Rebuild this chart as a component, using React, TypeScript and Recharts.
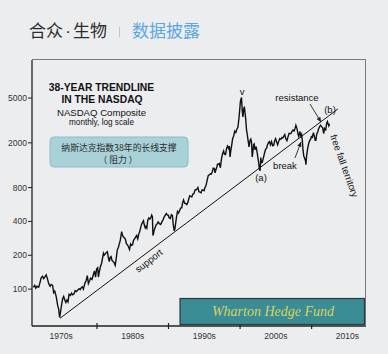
import React from "react";
import { LineChart, Line, XAxis, YAxis } from "recharts";

// NASDAQ Composite (decimal year, index level)
const dates = [
  1971.1, 1971.3, 1971.45, 1971.6, 1971.85, 1972.0, 1972.2, 1972.4, 1972.55, 1972.7, 1972.9,
  1973.1, 1973.25, 1973.45, 1973.6, 1973.8, 1973.95, 1974.1, 1974.3, 1974.5, 1974.65, 1974.78, 1974.9,
  1975.05, 1975.2, 1975.35, 1975.5, 1975.65, 1975.8, 1975.95, 1976.1, 1976.3, 1976.45, 1976.6, 1976.8, 1976.95,
  1977.15, 1977.3, 1977.5, 1977.65, 1977.85, 1977.95, 1978.1, 1978.3, 1978.5, 1978.65, 1978.8, 1978.95,
  1979.1, 1979.3, 1979.5, 1979.65, 1979.8, 1979.95, 1980.1, 1980.2, 1980.35, 1980.5, 1980.65, 1980.8, 1980.9,
  1981.0, 1981.15, 1981.3, 1981.45, 1981.6, 1981.72, 1981.85, 1981.97, 1982.1, 1982.25, 1982.4, 1982.55,
  1982.7, 1982.85, 1982.97, 1983.1, 1983.25, 1983.45, 1983.55, 1983.7, 1983.85, 1983.97, 1984.1, 1984.25,
  1984.4, 1984.55, 1984.7, 1984.85, 1984.97, 1985.1, 1985.25, 1985.4, 1985.55, 1985.7, 1985.85, 1985.97,
  1986.1, 1986.25, 1986.4, 1986.5, 1986.6, 1986.75, 1986.85, 1986.97, 1987.1, 1987.25, 1987.4, 1987.55,
  1987.65, 1987.75, 1987.82, 1987.9, 1987.97, 1988.1, 1988.25, 1988.4, 1988.55, 1988.7, 1988.85, 1988.97,
  1989.1, 1989.25, 1989.4, 1989.55, 1989.7, 1989.85, 1989.97, 1990.1, 1990.25, 1990.4, 1990.55, 1990.65,
  1990.8, 1990.9, 1990.97, 1991.1, 1991.25, 1991.4, 1991.55, 1991.7, 1991.85, 1991.97, 1992.1, 1992.25,
  1992.4, 1992.55, 1992.7, 1992.85, 1992.97, 1993.1, 1993.25, 1993.4, 1993.55, 1993.7, 1993.85, 1993.97,
  1994.1, 1994.25, 1994.4, 1994.55, 1994.7, 1994.85, 1994.97, 1995.1, 1995.25, 1995.4, 1995.55, 1995.7,
  1995.85, 1995.97, 1996.1, 1996.25, 1996.4, 1996.5, 1996.6, 1996.75, 1996.85, 1996.97, 1997.1, 1997.25,
  1997.4, 1997.55, 1997.7, 1997.8, 1997.9, 1997.97, 1998.1, 1998.25, 1998.4, 1998.5, 1998.6, 1998.7,
  1998.85, 1998.97, 1999.1, 1999.25, 1999.4, 1999.55, 1999.7, 1999.85, 1999.97, 2000.05, 2000.2, 2000.3,
  2000.4, 2000.5, 2000.6, 2000.7, 2000.8, 2000.9, 2000.97, 2001.1, 2001.25, 2001.4, 2001.5, 2001.6,
  2001.7, 2001.8, 2001.9, 2001.97, 2002.1, 2002.25, 2002.4, 2002.5, 2002.6, 2002.7, 2002.8, 2002.9,
  2002.97, 2003.1, 2003.25, 2003.4, 2003.55, 2003.7, 2003.85, 2003.97, 2004.1, 2004.25, 2004.4, 2004.55,
  2004.7, 2004.85, 2004.97, 2005.1, 2005.25, 2005.4, 2005.55, 2005.7, 2005.85, 2005.97, 2006.1, 2006.25,
  2006.4, 2006.55, 2006.7, 2006.85, 2006.97, 2007.1, 2007.25, 2007.4, 2007.55, 2007.7, 2007.8, 2007.97,
  2008.1, 2008.2, 2008.35, 2008.5, 2008.6, 2008.7, 2008.8, 2008.9, 2009.0, 2009.15, 2009.2, 2009.3,
  2009.45, 2009.6, 2009.75, 2009.85, 2009.97, 2010.1, 2010.25, 2010.4, 2010.5, 2010.6, 2010.7, 2010.85,
  2010.97, 2011.1, 2011.25, 2011.4, 2011.55, 2011.6, 2011.7, 2011.8, 2011.9, 2011.97, 2012.1, 2012.2,
  2012.3, 2012.4, 2012.5,
];

const closes = [
  104, 108, 102, 106, 104, 112, 126, 130, 124, 128, 134,
  122, 112, 106, 110, 108, 93, 96, 86, 72, 66, 56, 62,
  72, 82, 86, 80, 76, 80, 77, 90, 88, 92, 89, 91, 97,
  95, 98, 101, 99, 104, 105, 100, 112, 120, 132, 112, 118,
  125, 122, 135, 145, 128, 151, 155, 128, 145, 160, 170, 192, 208,
  200, 205, 212, 215, 190, 176, 192, 195, 180, 176, 172, 163,
  190, 225, 232, 250, 270, 325, 305, 290, 285, 279, 255, 248,
  238, 225, 252, 245, 248, 270, 280, 290, 300, 280, 310, 325,
  350, 380, 395, 405, 375, 350, 360, 349, 410, 430, 420, 435,
  455, 440, 300, 310, 330, 350, 370, 380, 395, 385, 375, 381,
  400, 415, 440, 455, 470, 455, 454, 430, 425, 458, 450, 380,
  330, 345, 374, 430, 490, 475, 500, 525, 530, 586, 620, 580,
  575, 565, 590, 640, 677, 670, 660, 700, 705, 760, 765, 776,
  800, 735, 730, 720, 765, 760, 752, 800, 840, 930, 1020, 1040,
  1060, 1052, 1100, 1190, 1180, 1080, 1140, 1220, 1290, 1291, 1310, 1200,
  1440, 1590, 1690, 1600, 1570, 1570, 1770, 1870, 1780, 1870, 1500, 1690,
  1950, 2193, 2290, 2540, 2470, 2640, 2750, 3340, 4069, 4700, 5050, 3860,
  3400, 3960, 4200, 3670, 3200, 2600, 2470, 2150, 1840, 2110, 2160, 2030,
  1500, 1690, 1930, 1950, 1730, 1850, 1615, 1460, 1330, 1170, 1130, 1480,
  1335, 1340, 1460, 1600, 1740, 1790, 1930, 2003, 2050, 1920, 2050, 1890,
  1900, 2100, 2175, 2050, 1920, 2060, 2180, 2150, 2230, 2205, 2280, 2370,
  2170, 2090, 2260, 2430, 2415, 2420, 2525, 2600, 2550, 2700, 2860, 2650,
  2390, 2280, 2520, 2290, 2370, 2090, 1720, 1530, 1475, 1380, 1280, 1530,
  1790, 1980, 2110, 2140, 2270, 2240, 2460, 2260, 2110, 2110, 2370, 2500,
  2650, 2780, 2870, 2770, 2720, 2580, 2420, 2680, 2620, 2605, 2970, 3090,
  2950, 2830, 2960,
];

// 38-year support / resistance trendline
const trendDates = [1974.83, 2013.67];
const trendValues = [55, 4000];

const yTicks = [100, 200, 400, 800, 2000, 5000];
const decadeTicks = [1980, 1990, 2000, 2010];
const labelTicks = [1975, 1985, 1995, 2005, 2015];
const decadeLabels = ["1970s", "1980s", "1990s", "2000s", "2010s"];

const series = dates.map((t, i) => ({ t, v: closes[i] }));
const trend = trendDates.map((t, i) => ({ t, v: trendValues[i] }));
const xTicks = [...labelTicks, ...decadeTicks].sort((a, b) => a - b);

const SANS = "'Liberation Sans', Arial, sans-serif";
const CJK = "'Noto Sans CJK SC', sans-serif";
const INK = "#222";

function DecadeTick({ x, y, payload }: any) {
  const i = labelTicks.indexOf(payload.value);
  if (i >= 0) {
    return (
      <text x={x} y={y + 13} textAnchor="middle" fontSize={8.5} fontFamily={SANS} fill="#333">
        {decadeLabels[i]}
      </text>
    );
  }
  return <line x1={x} x2={x} y1={y - 3} y2={y + 3} stroke={INK} strokeWidth={1.2} />;
}

function Overlay() {
  return (
    <svg
      width={388}
      height={354}
      style={{ position: "absolute", left: 0, top: 0, pointerEvents: "none" }}
    >
      <defs>
        <marker id="arr" viewBox="0 0 10 10" refX="9" refY="5" markerWidth="6" markerHeight="6" orient="auto">
          <path d="M0,1 L10,5 L0,9 z" fill={INK} />
        </marker>
      </defs>

      {/* page header */}
      <g fontSize={17} fill="#2c2c2c">
        <text x={29} y={37} fontFamily={CJK}>合众</text>
        <text x={68} y={37} fontFamily={SANS} textAnchor="middle">·</text>
        <text x={73} y={37} fontFamily={CJK}>生物</text>
      </g>
      <line x1={119.5} x2={119.5} y1={27} y2={37} stroke="#c4c4c4" strokeWidth={1} />
      <text x={132} y={37} fontSize={17} fontFamily={CJK} fill="#5aa7e2">数据披露</text>

      {/* frame top / right */}
      <line x1={32} x2={366} y1={59.5} y2={59.5} stroke="#7a7a7a" strokeWidth={1} />
      <line x1={365.5} x2={365.5} y1={59.5} y2={326} stroke="#7a7a7a" strokeWidth={1} />

      {/* title block */}
      <g fontFamily={SANS} fill="#111" textAnchor="middle">
        <text x={101.5} y={90.5} fontSize={10.3} fontWeight="bold">38-YEAR TRENDLINE</text>
        <text x={102} y={102.5} fontSize={10.3} fontWeight="bold">IN THE NASDAQ</text>
        <text x={101.5} y={115.5} fontSize={9.6}>NASDAQ Composite</text>
        <text x={101.5} y={125} fontSize={8.2}>monthly, log scale</text>
      </g>

      {/* Chinese note box */}
      <rect x={50} y={137} width={138} height={30} rx={4} fill="#a9d2d8" stroke="#8bbcc5" strokeWidth={1} />
      <g fontFamily={CJK} fill="#2a2a2a" textAnchor="middle" fontSize={8.8}>
        <text x={119} y={150.5}>纳斯达克指数38年的长线支撑</text>
        <text x={118} y={162.5}>（ 阻力 ）</text>
      </g>

      {/* annotations */}
      <g fontFamily={SANS} fill="#111" fontSize={9.5} textAnchor="middle">
        <text x={242} y={95}>v</text>
        <text x={297} y={101}>resistance</text>
        <text x={330} y={112.5}>(b)</text>
        <text x={261} y={180.5}>(a)</text>
        <text x={285} y={168.5}>break</text>
        <text x={344} y={169} transform="rotate(70 344 166)">free fall territory</text>
        <text x={149} y={264} transform="rotate(-38 149 261)">support</text>
      </g>
      <line x1={310} y1={104} x2={321} y2={122} stroke={INK} strokeWidth={0.9} markerEnd="url(#arr)" />
      <line x1={295} y1={158} x2={301} y2={142} stroke={INK} strokeWidth={0.9} markerEnd="url(#arr)" />

      {/* brand box */}
      <rect x={180} y={298.5} width={184.5} height={26} fill="#3a8d95" stroke="#2e3a3e" strokeWidth={1.2} />
      <text
        x={273}
        y={316}
        textAnchor="middle"
        fontSize={14}
        fontStyle="italic"
        fontFamily="'Liberation Serif', 'DejaVu Serif', serif"
        fill="#d9d25c"
      >
        Wharton Hedge Fund
      </text>
    </svg>
  );
}

export default function App() {
  return (
    <div
      style={{
        position: "fixed",
        left: 0,
        top: 0,
        width: 388,
        height: 354,
        background: "#ecedef",
      }}
    >
      <LineChart width={388} height={354} margin={{ top: 60, right: 22, bottom: 0, left: 0 }}>
        <XAxis
          type="number"
          dataKey="t"
          domain={[1970.92, 2017.6]}
          ticks={xTicks}
          interval={0}
          height={28}
          tickLine={false}
          tickSize={0}
          tickMargin={0}
          tick={<DecadeTick />}
          axisLine={{ stroke: INK, strokeWidth: 1.3 }}
          allowDataOverflow
        />
        <YAxis
          type="number"
          dataKey="v"
          scale="log"
          domain={[47, 10900]}
          ticks={yTicks}
          interval={0}
          width={32}
          tickSize={4}
          tickMargin={1}
          tick={{ fontSize: 8.5, fill: "#333", fontFamily: SANS }}
          tickLine={{ stroke: INK }}
          axisLine={{ stroke: INK, strokeWidth: 1.3 }}
          allowDataOverflow
        />
        <Line
          data={trend}
          dataKey="v"
          type="linear"
          stroke="#111"
          strokeWidth={1}
          dot={false}
          isAnimationActive={false}
        />
        <Line
          data={series}
          dataKey="v"
          type="linear"
          stroke="#111"
          strokeWidth={1.4}
          dot={false}
          isAnimationActive={false}
        />
      </LineChart>
      <Overlay />
    </div>
  );
}
